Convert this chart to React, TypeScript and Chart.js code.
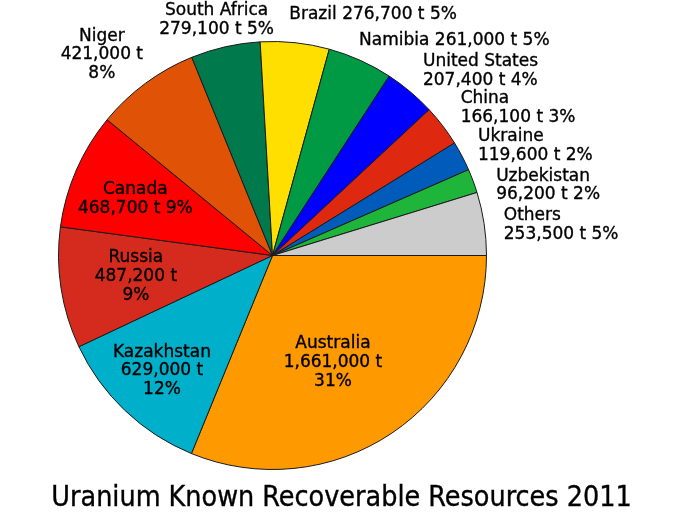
import React, { useEffect, useRef } from "react";
import { Chart, registerables } from "chart.js";

Chart.register(...registerables);

const categories = [
  "Australia",
  "Kazakhstan",
  "Russia",
  "Canada",
  "Niger",
  "South Africa",
  "Brazil",
  "Namibia",
  "United States",
  "China",
  "Ukraine",
  "Uzbekistan",
  "Others",
];

const tonnes = [
  1661000, 629000, 487200, 468700, 421000, 279100, 276700, 261000, 207400,
  166100, 119600, 96200, 253500,
];

const sliceColors = [
  "#FF9900",
  "#00AFCA",
  "#D52B1E",
  "#FF0000",
  "#E05206",
  "#007A4D",
  "#FEDF00",
  "#009A44",
  "#0000FF",
  "#DE2910",
  "#005BBB",
  "#1EB53A",
  "#CCCCCC",
];

// how many lines each label is broken into
const labelLineCounts = [3, 3, 3, 2, 3, 2, 1, 1, 2, 2, 2, 2, 2];

const titleText = "Uranium Known Recoverable Resources 2011";

// label placement: radial factor, alignment, nudge
const labelPlacement = [
  { f: 0.574, align: "center", dx: -8, dy: 5 },
  { f: 0.75, align: "center", dx: 0, dy: -1 },
  { f: 0.646, align: "center", dx: 0, dy: 0 },
  { f: 0.694, align: "center", dx: -1, dy: 3 },
  { f: 1.1, align: "center", dx: -31, dy: -11 },
  { f: 1.1, align: "center", dx: -4, dy: -6 },
  { f: 1.1, align: "left", dx: -8, dy: -7 },
  { f: 1.1, align: "left", dx: -10, dy: 0 },
  { f: 1.1, align: "left", dx: -1, dy: -4.5 },
  { f: 1.1, align: "left", dx: 1, dy: -4.5 },
  { f: 1.1, align: "left", dx: -3, dy: 0 },
  { f: 1.1, align: "left", dx: 3, dy: 12 },
  { f: 1.1, align: "left", dx: -1.5, dy: 4.5 },
];

const fmt = (v: number) => v.toLocaleString("en-US");

function labelLines(i: number, total: number): string[] {
  const name = categories[i];
  const val = fmt(tonnes[i]) + " t";
  const pct = Math.round((tonnes[i] / total) * 100) + "%";
  const n = labelLineCounts[i];
  if (n === 1) return [name + " " + val + " " + pct];
  if (n === 2) return [name, val + " " + pct];
  return [name, val, pct];
}

const labelPlugin = {
  id: "pieLabels",
  afterDraw(chart: any) {
    const ctx: CanvasRenderingContext2D = chart.ctx;
    const meta = chart.getDatasetMeta(0);
    const total = tonnes.reduce((a, b) => a + b, 0);
    const LH = 18.7;
    ctx.save();
    ctx.fillStyle = "#000";
    ctx.strokeStyle = "#000";
    ctx.lineWidth = 0.35;
    ctx.font = "17px 'DejaVu Sans'";
    ctx.textBaseline = "middle";
    meta.data.forEach((arc: any, i: number) => {
      const p = arc.getProps(["x", "y", "startAngle", "endAngle", "outerRadius"], true);
      const mid = (p.startAngle + p.endAngle) / 2;
      const pl = labelPlacement[i];
      const ax = p.x + Math.cos(mid) * p.outerRadius * pl.f + pl.dx;
      const ay = p.y + Math.sin(mid) * p.outerRadius * pl.f + pl.dy;
      const lines = labelLines(i, total);
      ctx.textAlign = pl.align as CanvasTextAlign;
      lines.forEach((ln, k) => {
        const y = ay + (k - (lines.length - 1) / 2) * LH;
        ctx.fillText(ln, ax, y);
        ctx.strokeText(ln, ax, y);
      });
    });
    // title
    ctx.font = "28.4px 'DejaVu Sans Condensed', 'DejaVu Sans'";
    try {
      (ctx as any).fontStretch = "condensed";
    } catch (e) {}
    ctx.textAlign = "center";
    ctx.textBaseline = "alphabetic";
    ctx.fillText(titleText, chart.width / 2, 506);
    ctx.strokeText(titleText, chart.width / 2, 506);
    ctx.restore();
  },
};

export default function App() {
  const canvasRef = useRef<HTMLCanvasElement | null>(null);

  useEffect(() => {
    document.body.style.margin = "0";
    const canvas = canvasRef.current;
    if (!canvas) return;
    const chart = new Chart(canvas, {
      type: "pie",
      data: {
        labels: categories,
        datasets: [
          {
            data: tonnes,
            backgroundColor: sliceColors,
            borderColor: "#1a1a1a",
            borderWidth: 1,
          },
        ],
      },
      options: {
        responsive: false,
        animation: false,
        devicePixelRatio: 1,
        rotation: 90,
        layout: { padding: { left: 58, right: 196, top: 41, bottom: 42 } },
        plugins: {
          legend: { display: false },
          tooltip: { enabled: false },
          title: { display: false },
        },
      },
      plugins: [labelPlugin],
    });
    return () => chart.destroy();
  }, []);

  return (
    <div style={{ width: 683, height: 512, background: "#fff" }}>
      <canvas ref={canvasRef} width={683} height={512} style={{ display: "block" }} />
    </div>
  );
}
